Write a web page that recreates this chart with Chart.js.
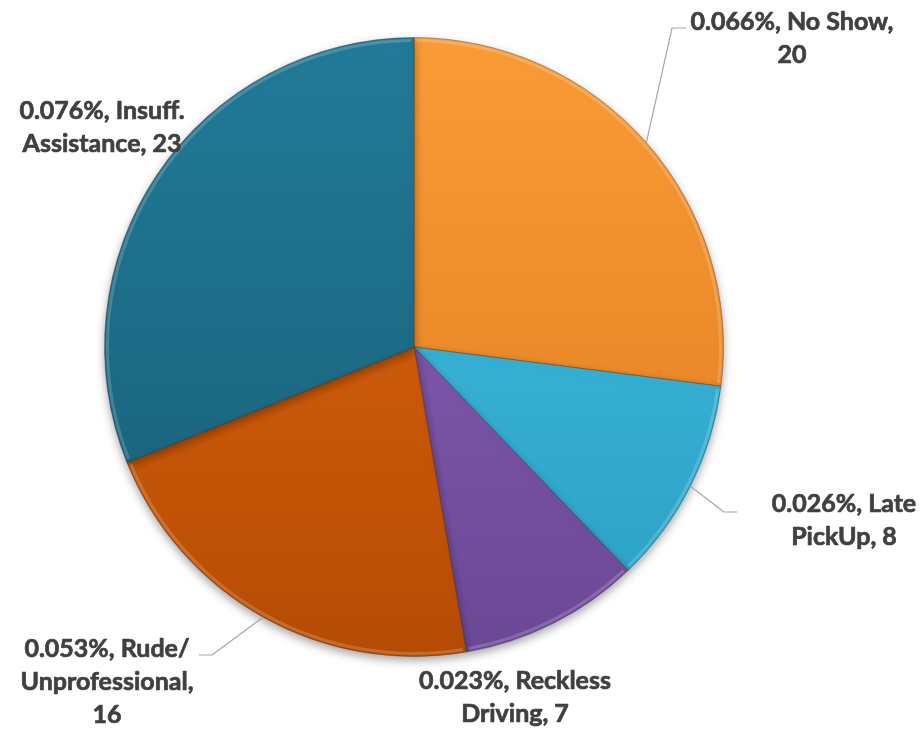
<!DOCTYPE html>
<html>
<head>
<meta charset="utf-8">
<script src="https://cdn.jsdelivr.net/npm/chart.js@4/dist/chart.umd.min.js"></script>
<style>
html,body{margin:0;padding:0;background:#fff;}
#wrap{width:922px;height:731px;position:relative;}
</style>
</head>
<body>
<div id="wrap"><canvas id="c" width="922" height="731"></canvas></div>
<script>
const categories = ["No Show", "Late PickUp", "Reckless Driving", "Rude/Unprofessional", "Insuff. Assistance"];
const counts = [20, 8, 7, 16, 23];
const percentLabels = ["0.066%", "0.026%", "0.023%", "0.053%", "0.076%"];
const labelLines = [
  ["0.066%, No Show,", "20"],
  ["0.026%, Late", "PickUp, 8"],
  ["0.023%, Reckless", "Driving, 7"],
  ["0.053%, Rude/", "Unprofessional,", "16"],
  ["0.076%, Insuff.", "Assistance, 23"]
];
const topColors = ["#FA9C36", "#44C3E6", "#8C62BA", "#E4680F", "#227B99"];
const bottomColors = ["#DE7A1E", "#2A9EC2", "#6B4896", "#B54C04", "#175C74"];

const labelLayout = [
  {x: 792, y: 22, leader: [[686, 28], [672, 28]]},
  {x: 844, y: 504, leader: [[737, 512], [724, 512]]},
  {x: 515, y: 681, leader: null},
  {x: 107, y: 649, leader: [[199, 655], [212, 655]]},
  {x: 102, y: 111, leader: null}
];

function sliceGradient(ctx, i) {
  const chart = ctx.chart;
  const area = chart.chartArea;
  if (!area) return topColors[i];
  const g = chart.ctx.createLinearGradient(0, area.top, 0, area.bottom);
  g.addColorStop(0, topColors[i]);
  g.addColorStop(1, bottomColors[i]);
  return g;
}

const shadowPlugin = {
  id: 'shadow',
  beforeDatasetsDraw(chart) {
    const c = chart.ctx;
    c.save();
    c.shadowColor = 'rgba(0,0,0,0.35)';
    c.shadowBlur = 10;
    c.shadowOffsetY = 4;
  },
  afterDatasetsDraw(chart) {
    chart.ctx.restore();
    const c = chart.ctx;
    const meta = chart.getDatasetMeta(0);
    meta.data.forEach((arc) => {
      const p = arc.getProps(['x','y','startAngle','endAngle','outerRadius'], true);
      c.save();
      c.beginPath();
      c.arc(p.x, p.y, p.outerRadius - 3, p.startAngle + 0.01, p.endAngle - 0.01);
      c.strokeStyle = 'rgba(255,255,255,0.18)';
      c.lineWidth = 3;
      c.stroke();
      c.restore();
    });
  }
};

const labelPlugin = {
  id: 'outLabels',
  afterDraw(chart) {
    const c = chart.ctx;
    const meta = chart.getDatasetMeta(0);
    c.save();
    meta.data.forEach((arc, i) => {
      const p = arc.getProps(['x','y','startAngle','endAngle','outerRadius'], true);
      const mid = (p.startAngle + p.endAngle) / 2;
      const ex = p.x + Math.cos(mid) * p.outerRadius;
      const ey = p.y + Math.sin(mid) * p.outerRadius;
      const L = labelLayout[i];
      if (L.leader) {
        c.beginPath();
        c.moveTo(L.leader[0][0], L.leader[0][1]);
        c.lineTo(L.leader[1][0], L.leader[1][1]);
        c.lineTo(ex, ey);
        c.strokeStyle = '#A6A6A6';
        c.lineWidth = 1.2;
        c.stroke();
      }
      c.font = 'bold 25px Lato, "Open Sans", sans-serif';
      c.fillStyle = '#404040';
      c.strokeStyle = '#404040';
      c.lineWidth = 0.7;
      c.lineJoin = 'round';
      c.textAlign = 'center';
      c.textBaseline = 'middle';
      labelLines[i].forEach((t, k) => {
        c.fillText(t, L.x, L.y + k * 33);
        c.strokeText(t, L.x, L.y + k * 33);
      });
    });
    c.restore();
  }
};

new Chart(document.getElementById('c'), {
  type: 'pie',
  data: {
    labels: categories,
    datasets: [{
      data: counts,
      backgroundColor: (ctx) => sliceGradient(ctx, ctx.dataIndex),
      borderColor: 'rgba(40,40,40,0.35)',
      borderWidth: 1
    }]
  },
  options: {
    responsive: false,
    animation: false,
    layout: {padding: {left: 104, right: 198, top: 37, bottom: 74}},
    plugins: {legend: {display: false}, tooltip: {enabled: false}}
  },
  plugins: [shadowPlugin, labelPlugin]
});
</script>
</body>
</html>
